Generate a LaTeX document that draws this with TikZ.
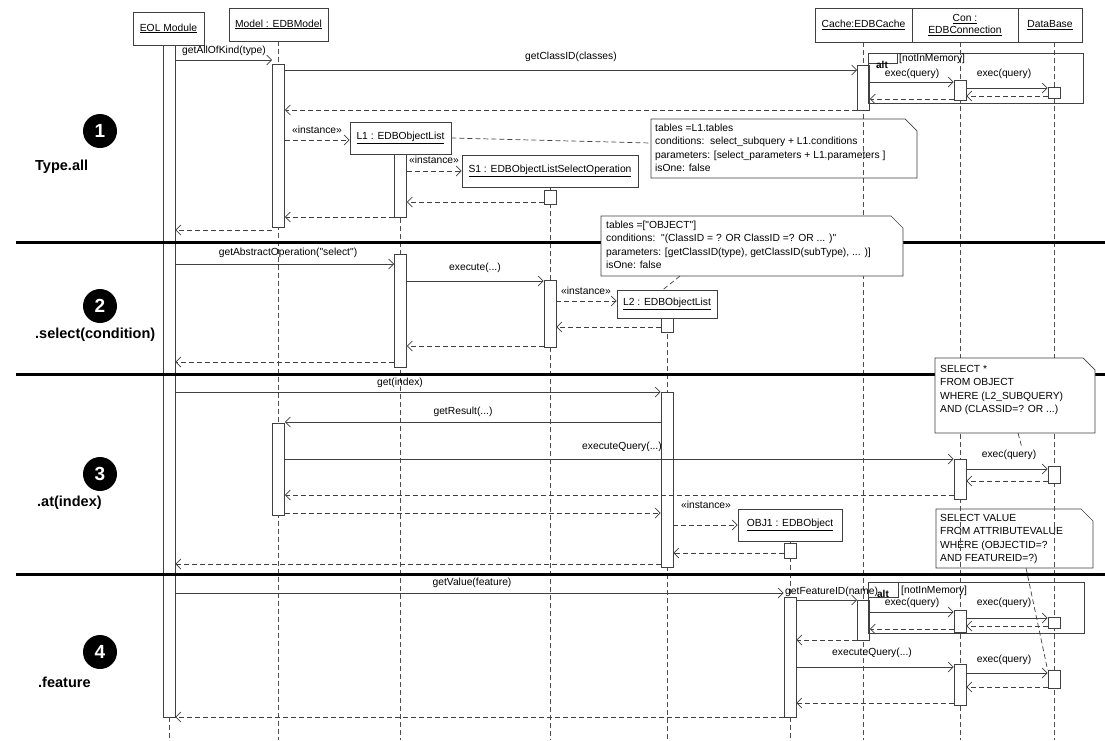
\documentclass[tikz,border=0pt]{standalone}
\usepackage{fontspec}
\setmainfont{Liberation Sans}[Ligatures=TeXOff]
\usetikzlibrary{arrows.meta}
\newcommand{\actbar}[4]{\node[act, minimum height={#4-#3}, anchor=north] (#1) at (#2,#3) {};}
\begin{document}
\begin{tikzpicture}[x=1pt,y=-1pt,
  lab/.style={font=\fontsize{10.3}{12.4}\selectfont},
  head/.style={draw=black!75, fill=white, line width=0.8pt, inner sep=1pt, align=center, lab},
  act/.style={draw=black!75, fill=white, line width=0.8pt, minimum width=12pt, inner sep=0pt},
  life/.style={draw=black!70, line width=0.7pt, dash pattern=on 5pt off 3pt},
  msg/.style={draw=black!75, line width=0.7pt, -{Straight Barb[length=5pt,width=10pt]}},
  ret/.style={msg, dash pattern=on 5pt off 3pt},
  link/.style={draw=black!75, line width=0.7pt, dash pattern=on 5pt off 3pt},
  mlab/.style={lab, inner sep=0pt},
  divider/.style={line width=3pt, black},
  notebox/.style={draw=black!75, fill=white, line width=0.7pt},
  notetxt/.style={align=left, anchor=north west, inner sep=0pt, font=\fontsize{10.3}{13.3}\selectfont},
  circ/.style={circle, fill=black, text=white, minimum size=34pt, inner sep=0pt, font=\bfseries\fontsize{19}{19}\selectfont},
  sect/.style={anchor=west, inner sep=0pt, font=\bfseries\fontsize{14.5}{16}\selectfont},
  altframe/.style={draw=black!75, line width=0.8pt},
  alttag/.style={inner sep=0pt, font=\bfseries\fontsize{10}{12}\selectfont}
]
\useasboundingbox (0,0) rectangle (1105,740);
\fill[white] (0,0) rectangle (1105,740);

% ---- notes drawn under lifelines
\draw[notebox] (651,119) -- (905,119) -- (917,131) -- (917,178) -- (651,178) -- cycle;
\node[notetxt] (note1) at (655,124) {tables =L1.tables\\conditions:\ \ select\_subquery + L1.conditions\\parameters: [select\_parameters + L1.parameters ]\\isOne: false};
\coordinate (note1w) at (651,143);
\draw[notebox] (936,509) -- (1081,509) -- (1093,521) -- (1093,568) -- (936,568) -- cycle;
\node[notetxt] (note4) at (940,514) {SELECT VALUE\\FROM ATTRIBUTEVALUE\\WHERE (OBJECTID=?\\AND FEATUREID=?)};
\coordinate (note4s) at (1026,568);

% ---- lifelines
\draw[life] (169,45) -- (169,740);
\draw[life] (278.5,41) -- (278.5,740);
\draw[life] (400.5,154) -- (400.5,740);
\draw[life] (550,187) -- (550,740);
\draw[life] (667,318) -- (667,740);
\draw[life] (790,541) -- (790,740);
\draw[life] (863.5,42) -- (863.5,740);
\draw[life] (960,42) -- (960,740);
\draw[life] (1054,42) -- (1054,740);

% ---- heads
\node[head, minimum width=71pt, minimum height=33pt] (eol) at (168.5,28.5) {\underline{EOL Module}};
\node[head, minimum width=99pt, minimum height=33pt] (model) at (278.5,24.5) {\underline{Model : EDBModel}};
\node[head, minimum width=97pt, minimum height=34pt] (cache) at (863.5,25) {\underline{Cache:EDBCache}};
\node[head, minimum width=106pt, minimum height=34pt] (con) at (965,25) {\underline{Con :}\\[-1pt]\underline{EDBConnection}};
\node[head, minimum width=64pt, minimum height=34pt] (db) at (1050,25) {\underline{DataBase}};
\node[head, minimum width=101pt, minimum height=32pt] (L1) at (400.5,138) {\underline{L1 : EDBObjectList}};
\node[head, minimum width=176pt, minimum height=32pt] (S1) at (550,171) {\underline{S1 : EDBObjectListSelectOperation}};
\node[head, minimum width=100pt, minimum height=28pt] (L2) at (667,304) {\underline{L2 : EDBObjectList}};
\node[head, minimum width=104pt, minimum height=32pt] (OBJ1) at (790,525) {\underline{OBJ1 : EDBObject}};

% ---- activations
\actbar{eolA}{169}{45}{717}
\actbar{modA1}{278.5}{64}{227}
\actbar{cacheA1}{863.5}{65}{110}
\actbar{conA1}{960}{80}{100}
\actbar{dbA1}{1054}{87}{98}
\actbar{l1A1}{400.5}{154}{217}
\actbar{s1A1}{550}{190}{204}
\actbar{l1A2}{400.5}{254}{367}
\actbar{s1A2}{550}{280}{347}
\actbar{l2A1}{667}{318}{332}
\actbar{l2A2}{667}{392}{567}
\actbar{modA2}{278.5}{423}{515}
\actbar{conA2}{960}{459}{499}
\actbar{dbA2}{1054}{466}{483}
\actbar{objA1}{790}{543}{558}
\actbar{objA2}{790}{597}{717}
\actbar{cacheA2}{863.5}{600}{640}
\actbar{conA3}{960}{610}{632}
\actbar{dbA3}{1054}{617}{628}
\actbar{conA4}{960}{664}{705}
\actbar{dbA4}{1054}{670}{688}

% ---- alt frames
\draw[altframe] (868,53) rectangle (1083,103);
\draw[altframe] (868,63) -- (897,63) -- (897,53);
\node[alttag] (alt1) at (882,65) {alt};
\node[mlab, anchor=west] (nim1) at (899,59) {[notInMemory]};
\draw[altframe] (868,582) rectangle (1084,633);
\draw[altframe] (868,597) -- (898,597) -- (898,582);
\node[alttag] (alt2) at (883,594) {alt};
\node[mlab, anchor=west] (nim2) at (901,591) {[notInMemory]};

% ---- section 1
\draw[msg] (eolA.east |- 0,60) -- (modA1.west |- 0,60);
\node[mlab] (t1) at (224,51) {getAllOfKind(type)};
\draw[msg] (modA1.east |- 0,70) -- (cacheA1.west |- 0,70);
\node[mlab] (t2) at (571,57) {getClassID(classes)};
\draw[msg] (cacheA1.east |- 0,82) -- (conA1.west |- 0,82);
\node[mlab] (t3) at (912,74) {exec(query)};
\draw[msg] (conA1.east |- 0,88) -- (dbA1.west |- 0,88);
\node[mlab] (t4) at (1004,74) {exec(query)};
\draw[ret] (dbA1.west |- 0,96) -- (conA1.east |- 0,96);
\draw[ret] (conA1.west |- 0,99) -- (cacheA1.east |- 0,99);
\draw[ret] (cacheA1.west |- 0,110) -- (modA1.east |- 0,110);
\draw[ret] (modA1.east |- 0,140) -- (L1.west |- 0,140);
\node[mlab] (t5) at (317,130) {«instance»};
\draw[ret] (l1A1.east |- 0,171) -- (S1.west |- 0,171);
\node[mlab] (t6) at (434,160) {«instance»};
\draw[ret] (s1A1.west |- 0,202) -- (l1A1.east |- 0,202);
\draw[ret] (l1A1.west |- 0,217) -- (modA1.east |- 0,217);
\draw[ret] (modA1.west |- 0,230) -- (eolA.east |- 0,230);
\draw[link] (L1.east) -- (note1w);

% ---- section 2
\draw[msg] (eolA.east |- 0,264) -- (l1A2.west |- 0,264);
\node[mlab] (t7) at (288,253) {getAbstractOperation("select")};
\draw[msg] (l1A2.east |- 0,281) -- (s1A2.west |- 0,281);
\node[mlab] (t8) at (475,268) {execute(...)};
\draw[ret] (s1A2.east |- 0,301) -- (L2.west |- 0,301);
\node[mlab] (t9) at (586,291) {«instance»};
\draw[ret] (l2A1.west |- 0,327) -- (s1A2.east |- 0,327);
\draw[ret] (s1A2.west |- 0,346) -- (l1A2.east |- 0,346);
\draw[ret] (l1A2.west |- 0,362) -- (eolA.east |- 0,362);

% ---- section 3
\draw[msg] (eolA.east |- 0,392) -- (l2A2.west |- 0,392);
\node[mlab] (t10) at (400,383) {get(index)};
\draw[msg] (l2A2.west |- 0,422) -- (modA2.east |- 0,422);
\node[mlab] (t11) at (463,412) {getResult(...)};
\draw[msg] (modA2.east |- 0,459) -- (conA2.west |- 0,459);
\node[mlab] (t12) at (622,447) {executeQuery(...)};
\draw[msg] (conA2.east |- 0,469) -- (dbA2.west |- 0,469);
\node[mlab] (t13) at (1009,455) {exec(query)};
\draw[ret] (dbA2.west |- 0,481) -- (conA2.east |- 0,481);
\draw[ret] (conA2.west |- 0,495) -- (modA2.east |- 0,495);
\draw[ret] (modA2.east |- 0,513) -- (l2A2.west |- 0,513);
\draw[ret] (l2A2.east |- 0,525) -- (OBJ1.west |- 0,525);
\node[mlab] (t14) at (706,505) {«instance»};
\draw[ret] (objA1.west |- 0,553) -- (l2A2.east |- 0,553);
\draw[ret] (l2A2.west |- 0,564) -- (eolA.east |- 0,564);

% ---- section 4
\draw[msg] (eolA.east |- 0,593) -- (objA2.west |- 0,593);
\node[mlab] (t15) at (472,583) {getValue(feature)};
\draw[msg] (objA2.east |- 0,600) -- (cacheA2.west |- 0,600);
\node[mlab, anchor=west] (t16) at (785,592) {getFeatureID(name)};
\draw[msg] (cacheA2.east |- 0,612) -- (conA3.west |- 0,612);
\node[mlab] (t17) at (912,603) {exec(query)};
\draw[msg] (conA3.east |- 0,618) -- (dbA3.west |- 0,618);
\node[mlab] (t18) at (1004,603) {exec(query)};
\draw[ret] (dbA3.west |- 0,626) -- (conA3.east |- 0,626);
\draw[ret] (conA3.west |- 0,629) -- (cacheA2.east |- 0,629);
\draw[ret] (cacheA2.west |- 0,640) -- (objA2.east |- 0,640);
\draw[msg] (objA2.east |- 0,667) -- (conA4.west |- 0,667);
\node[mlab] (t19) at (872,653) {executeQuery(...)};
\draw[msg] (conA4.east |- 0,673) -- (dbA4.west |- 0,673);
\node[mlab] (t20) at (1004,660) {exec(query)};
\draw[ret] (dbA4.west |- 0,687) -- (conA4.east |- 0,687);
\draw[ret] (conA4.west |- 0,703) -- (objA2.east |- 0,703);
\draw[ret] (objA2.west |- 0,717) -- (eolA.east |- 0,717);
\draw[link] (note4s) -- (dbA4.north west);

% ---- dividers
\draw[divider] (16,242) -- (1105,242);
\draw[divider] (16,374) -- (1105,374);
\draw[divider] (16,574) -- (1105,574);

% ---- notes on top
\draw[notebox] (601,216) -- (891,216) -- (903,228) -- (903,276) -- (601,276) -- cycle;
\node[notetxt] (note2) at (606,221) {tables =["OBJECT"]\\conditions:\ \ "(ClassID = ? OR ClassID =? OR ... )"\\parameters: [getClassID(type), getClassID(subType), ... )]\\isOne: false};
\coordinate (note2s) at (680,276);
\draw[link] (note2s) -- (L2.north west -| 663,0);
\draw[notebox] (935,358) -- (1083,358) -- (1095,370) -- (1095,433) -- (935,433) -- cycle;
\node[notetxt] (note3) at (940,365) {SELECT *\\FROM OBJECT\\WHERE (L2\_SUBQUERY)\\AND (CLASSID=? OR ...)};
\coordinate (note3s) at (1018,433);
\coordinate (q3) at (1022,448);
\draw[link] (note3s) -- (q3);

% ---- section markers
\node[circ] (c1) at (100,131) {1};
\node[sect] (s1lab) at (35,167) {Type.all};
\node[circ] (c2) at (100,306) {2};
\node[sect] (s2lab) at (35,335) {.select(condition)};
\node[circ] (c3) at (100,474) {3};
\node[sect] (s3lab) at (37,503) {.at(index)};
\node[circ] (c4) at (100,652) {4};
\node[sect] (s4lab) at (38,682) {.feature};
\end{tikzpicture}
\end{document}
